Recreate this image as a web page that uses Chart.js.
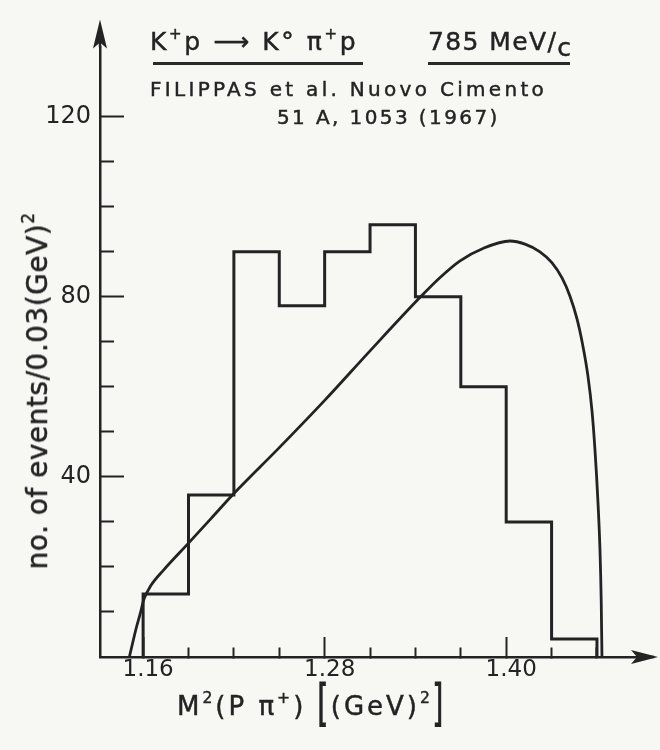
<!DOCTYPE html>
<html>
<head>
<meta charset="utf-8">
<script src="https://cdn.jsdelivr.net/npm/chart.js@4.4.1/dist/chart.umd.min.js"></script>
<style>
html,body{margin:0;padding:0;background:#f7f7f4;}
#wrap{position:relative;width:660px;height:750px;overflow:hidden;background:#f7f7f4;font-family:'DejaVu Sans',sans-serif;color:#232323;}
#c{position:absolute;left:0;top:0;}
.t{position:absolute;white-space:nowrap;line-height:1;-webkit-text-stroke:0.45px #232323;}
.ul{position:absolute;height:2.5px;background:#2a2a2a;}
sup{font-size:0.6em;vertical-align:0.75em;line-height:0;}
sub{font-size:1em;vertical-align:-0.25em;line-height:0;}
.br{display:inline-block;transform:scale(1.1,1.9);transform-origin:50% 62%;}
</style>
</head>
<body>
<div id="wrap">
<canvas id="c" width="660" height="750"></canvas>
<div class="t" style="left:150px;top:29px;font-size:25px;letter-spacing:2.6px;">K<sup>+</sup>p ⟶ K° π<sup>+</sup>p</div>
<div class="ul" style="left:153px;top:62px;width:210px;"></div>
<div class="t" style="left:428px;top:29px;font-size:25px;letter-spacing:1.4px;">785 MeV/<sub>c</sub></div>
<div class="ul" style="left:428px;top:62px;width:142px;"></div>
<div class="t" style="left:150px;top:79px;font-size:20px;letter-spacing:3.3px;">FILIPPAS et al. Nuovo Cimento</div>
<div class="t" style="left:277px;top:107px;font-size:20px;letter-spacing:2.4px;">51 A, 1053 (1967)</div>
<div class="t" style="left:177px;top:693px;font-size:26px;letter-spacing:3px;">M<sup>2</sup>(P π<sup>+</sup>) <span class="br">[</span>(GeV)<sup>2</sup><span class="br">]</span></div>
<div class="t" style="left:38px;top:391px;font-size:28px;letter-spacing:0.5px;transform:translate(-50%,-50%) rotate(-90deg);">no. of events/0.03(GeV)<sup>2</sup></div>
</div>
<script>
// ---- data ----
const binEdges = [1.16, 1.19, 1.22, 1.25, 1.28, 1.31, 1.34, 1.37, 1.40, 1.43, 1.46];
const counts   = [14, 36, 90, 78, 90, 96, 80, 60, 30, 4];

const curveX = [1.1509, 1.1530, 1.1555, 1.1580, 1.1605, 1.1650, 1.1735, 1.19, 1.205, 1.22, 1.25, 1.28, 1.31, 1.3434, 1.3563, 1.3695, 1.385, 1.4025, 1.4124, 1.4223, 1.4302, 1.4369, 1.4421, 1.4468, 1.4507, 1.4540, 1.4567, 1.4587, 1.4606, 1.4620, 1.4628, 1.4633];
const curveY = [0, 3, 6.5, 9.5, 12.8, 15.8, 19.3, 25.3, 30.8, 36.3, 46.5, 57, 68, 80, 84.3, 88, 90.8, 92.4, 91.7, 90.0, 87.6, 84.2, 80.2, 75.1, 69.1, 62.5, 54.7, 45.9, 34.8, 23.7, 12.6, 0];

const xTicks = [1.16, 1.19, 1.22, 1.25, 1.28, 1.31, 1.34, 1.37, 1.40, 1.43, 1.46];
const xTickLabels = ['1.16', '', '', '', '1.28', '', '', '', '1.40', '', ''];
const yTicks = [10, 20, 30, 40, 50, 60, 70, 80, 90, 100, 110, 120];
const yTickLabels = ['', '', '', '40', '', '', '', '80', '', '', '', '120'];

const X_MIN = 1.1315, X_MAX = 1.4858;
const Y_MIN = 0, Y_MAX = 135.4;

const INK = '#232323';
const FONT = 'DejaVu Sans';

const histData = [{x: binEdges[0], y: 0}]
  .concat(counts.map((c, i) => ({x: binEdges[i], y: c})))
  .concat([{x: binEdges[binEdges.length - 1], y: 0}]);
const curveData = curveX.map((x, i) => ({x: x, y: curveY[i]}));

const arrowPlugin = {
  id: 'axisArrows',
  afterDraw(chart) {
    const ctx = chart.ctx, a = chart.chartArea;
    ctx.save();
    ctx.fillStyle = INK; ctx.strokeStyle = INK; ctx.lineWidth = 2.5;
    // y axis arrow
    ctx.beginPath(); ctx.moveTo(a.left, a.top); ctx.lineTo(a.left, a.top - 20); ctx.stroke();
    ctx.beginPath();
    ctx.moveTo(a.left, a.top - 28);
    ctx.lineTo(a.left - 7, a.top + 1);
    ctx.lineTo(a.left, a.top - 5);
    ctx.lineTo(a.left + 7, a.top + 1);
    ctx.closePath(); ctx.fill();
    // x axis arrow
    ctx.beginPath(); ctx.moveTo(a.right, a.bottom); ctx.lineTo(a.right + 18, a.bottom); ctx.stroke();
    ctx.beginPath();
    ctx.moveTo(a.right + 22, a.bottom);
    ctx.lineTo(a.right - 5, a.bottom - 7);
    ctx.lineTo(a.right + 1, a.bottom);
    ctx.lineTo(a.right - 5, a.bottom + 7);
    ctx.closePath(); ctx.fill();
    ctx.restore();
  }
};

new Chart(document.getElementById('c'), {
  type: 'scatter',
  data: {
    datasets: [
      {
        label: 'events',
        data: histData,
        showLine: true,
        stepped: true,
        borderColor: INK,
        borderWidth: 3,
        pointRadius: 0,
        fill: false
      },
      {
        label: 'phase space',
        data: curveData,
        showLine: true,
        cubicInterpolationMode: 'monotone',
        borderColor: INK,
        borderWidth: 2.8,
        pointRadius: 0,
        fill: false
      }
    ]
  },
  options: {
    responsive: false,
    animation: false,
    events: [],
    layout: {padding: {top: 46, right: 24, bottom: 0, left: 0}},
    plugins: {legend: {display: false}, tooltip: {enabled: false}, title: {display: false}},
    scales: {
      x: {
        type: 'linear', position: 'bottom', min: X_MIN, max: X_MAX,
        afterBuildTicks: s => { s.ticks = xTicks.map(v => ({value: v})); },
        afterFit: s => { s.height = 93; },
        ticks: {
          autoSkip: false, maxRotation: 0, minRotation: 0, padding: 19, labelOffset: 5,
          color: INK, font: {family: FONT, size: 23},
          callback: (v, i) => xTickLabels[i]
        },
        grid: {
          display: true, drawOnChartArea: false, drawTicks: true, tickLength: -20,
          tickWidth: 2, tickColor: INK,
          tickBorderDash: ctx => xTickLabels[ctx.index] ? [] : [11, 100]
        },
        border: {display: true, color: INK, width: 2.5}
      },
      y: {
        type: 'linear', position: 'left', min: Y_MIN, max: Y_MAX,
        afterBuildTicks: s => { s.ticks = yTicks.map(v => ({value: v})); },
        afterFit: s => { s.width = 100; },
        ticks: {
          autoSkip: false, padding: 33, color: INK, font: {family: FONT, size: 24},
          callback: (v, i) => yTickLabels[i]
        },
        grid: {
          display: true, drawOnChartArea: false, drawTicks: true, tickLength: -24,
          tickWidth: 2, tickColor: INK,
          tickBorderDash: ctx => yTickLabels[ctx.index] ? [] : [0, 10, 14, 100]
        },
        border: {display: true, color: INK, width: 2.5}
      }
    }
  },
  plugins: [arrowPlugin]
});
</script>
</body>
</html>
